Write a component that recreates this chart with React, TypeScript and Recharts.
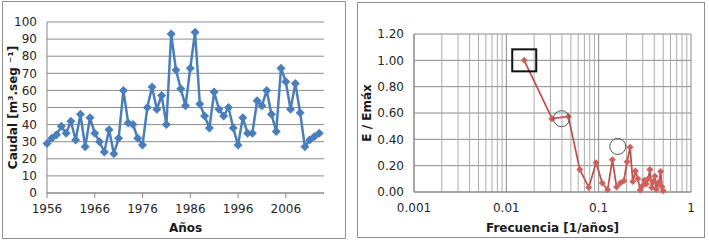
import { LineChart, Line, XAxis, YAxis, CartesianGrid, ReferenceLine, ReferenceDot, Label } from "recharts";

// caudal anual
const years = [
  1956, 1957, 1958, 1959, 1960, 1961, 1962, 1963, 1964, 1965,
  1966, 1967, 1968, 1969, 1970, 1971, 1972, 1973, 1974, 1975,
  1976, 1977, 1978, 1979, 1980, 1981, 1982, 1983, 1984, 1985,
  1986, 1987, 1988, 1989, 1990, 1991, 1992, 1993, 1994, 1995,
  1996, 1997, 1998, 1999, 2000, 2001, 2002, 2003, 2004, 2005,
  2006, 2007, 2008, 2009, 2010, 2011, 2012, 2013,
];
const caudal = [
  29, 32, 34, 39, 35, 42, 31, 46, 27, 44,
  35, 30, 24, 37, 23, 32, 60, 41, 40, 32,
  28, 50, 62, 49, 57, 40, 93, 72, 61, 51,
  73, 94, 52, 45, 38, 59, 49, 45, 50, 38,
  28, 44, 35, 35, 54, 51, 60, 46, 36, 73,
  65, 49, 64, 47, 27, 31, 33, 35,
];
const yearTicks = [1956, 1966, 1976, 1986, 1996, 2006];
const yearMinorTicks = [
  1956, 1958, 1960, 1962, 1964, 1966, 1968, 1970, 1972, 1974, 1976, 1978, 1980, 1982, 1984,
  1986, 1988, 1990, 1992, 1994, 1996, 1998, 2000, 2002, 2004, 2006, 2008, 2010, 2012, 2014,
];
const caudalTicks = [0, 10, 20, 30, 40, 50, 60, 70, 80, 90, 100];

// espectro
const frecuencia = [
  0.015625, 0.03125, 0.046875, 0.0625, 0.078125, 0.09375, 0.109375, 0.125,
  0.140625, 0.15625, 0.171875, 0.1875, 0.203125, 0.21875, 0.234375, 0.25,
  0.265625, 0.28125, 0.296875, 0.3125, 0.328125, 0.34375, 0.359375, 0.375,
  0.390625, 0.40625, 0.421875, 0.4375, 0.453125, 0.46875, 0.484375, 0.5,
];
const energia = [
  1.0, 0.557, 0.574, 0.17, 0.035, 0.222, 0.068, 0.017,
  0.245, 0.038, 0.068, 0.086, 0.23, 0.339, 0.08, 0.16,
  0.1, 0.015, 0.045, 0.09, 0.06, 0.1, 0.17, 0.035,
  0.08, 0.12, 0.02, 0.06, 0.08, 0.155, 0.04, 0.01,
];
const freqTicks = [0.001, 0.01, 0.1, 1];
const freqMinor = [
  0.002, 0.003, 0.004, 0.005, 0.006, 0.007, 0.008, 0.009,
  0.02, 0.03, 0.04, 0.05, 0.06, 0.07, 0.08, 0.09,
  0.2, 0.3, 0.4, 0.5, 0.6, 0.7, 0.8, 0.9,
];
const energiaTicks = [0, 0.2, 0.4, 0.6, 0.8, 1.0, 1.2];
const squareMark = { f: 0.015625, e: 1.0 };
const circleMarks = [
  { f: 0.0396, e: 0.557 },
  { f: 0.161, e: 0.346 },
];

const caudalData = years.map((y, i) => ({ year: y, q: caudal[i] }));
const espectroData = frecuencia.map((f, i) => ({ f, e: energia[i] }));

const font = "'DejaVu Sans', Verdana, sans-serif";
const tickStyle = { fill: "#262626", fontSize: 12, fontFamily: font };

const diamond = (r: number, color: string) => (props: any) => {
  const { cx, cy, index } = props;
  if (cx == null || cy == null) return <g key={`d-${index}`} />;
  return (
    <polygon
      key={`d-${index}`}
      points={`${cx},${cy - r} ${cx + r},${cy} ${cx},${cy + r} ${cx - r},${cy}`}
      fill={color}
    />
  );
};

const yTitle = (text: string, x: number) => (props: any) => {
  const vb = props.viewBox;
  const cy = vb.y + vb.height / 2;
  return (
    <text
      x={x}
      y={cy}
      transform={`rotate(-90 ${x} ${cy})`}
      textAnchor="middle"
      dominantBaseline="central"
      fontWeight="bold"
      fontSize={12}
      fontFamily={font}
      fill="#1a1a1a"
    >
      {text}
    </text>
  );
};

const xTitle = (text: string, dy: number) => (props: any) => {
  const vb = props.viewBox;
  return (
    <text
      x={vb.x + vb.width / 2}
      y={vb.y + dy}
      textAnchor="middle"
      dominantBaseline="central"
      fontWeight="bold"
      fontSize={12}
      fontFamily={font}
      fill="#1a1a1a"
    >
      {text}
    </text>
  );
};

export default function App() {
  return (
    <div style={{ position: "absolute", left: 0, top: 0, width: 709, height: 243, background: "#fff", fontFamily: font }}>
      <div style={{ position: "absolute", left: 2, top: 1, width: 344, height: 238, border: "1px solid #8e8e8e", boxSizing: "border-box" }} />
      <div style={{ position: "absolute", left: 357, top: 2, width: 348, height: 236, border: "1px solid #8e8e8e", boxSizing: "border-box" }} />

      <div style={{ position: "absolute", left: 0, top: 0 }}>
        <LineChart width={350} height={243} data={caudalData} margin={{ top: 22, right: 26, bottom: 0, left: 0 }}>
          <CartesianGrid vertical={false} stroke="#8c8c8c" />
          <XAxis
            xAxisId="minor"
            dataKey="year"
            type="number"
            domain={[1956, 2014]}
            ticks={yearMinorTicks}
            interval={0}
            height={0}
            tick={false}
            tickSize={3}
            axisLine={false}
            tickLine={{ stroke: "#868686" }}
          />
          <XAxis
            dataKey="year"
            type="number"
            domain={[1956, 2014]}
            ticks={yearTicks}
            interval={0}
            height={50}
            tickSize={5}
            tickMargin={6}
            tick={tickStyle}
            axisLine={{ stroke: "#868686" }}
            tickLine={{ stroke: "#868686" }}
          >
            <Label content={xTitle("Años", 35)} />
          </XAxis>
          <YAxis
            domain={[0, 100]}
            ticks={caudalTicks}
            interval={0}
            width={47}
            tickSize={0}
            tickMargin={10}
            tick={tickStyle}
            axisLine={{ stroke: "#868686" }}
            tickLine={false}
          >
            <Label content={yTitle("Caudal [m³.seg ⁻¹]", 13)} />
          </YAxis>
          <Line
            type="linear"
            dataKey="q"
            stroke="#4a7ebb"
            strokeWidth={2.5}
            dot={diamond(4.5, "#4a7ebb")}
            activeDot={false}
            isAnimationActive={false}
          />
        </LineChart>
      </div>

      <div style={{ position: "absolute", left: 355, top: 0 }}>
        <LineChart width={354} height={243} data={espectroData} margin={{ top: 34, right: 18, bottom: 0, left: 0 }}>
          {freqMinor.map((v) => (
            <ReferenceLine key={v} x={v} stroke="#ababab" strokeWidth={1} />
          ))}
          <CartesianGrid stroke="#8a8a8a" />
          <XAxis
            dataKey="f"
            type="number"
            scale="log"
            domain={[0.001, 1]}
            allowDataOverflow
            ticks={freqTicks}
            interval={0}
            height={51}
            tickSize={0}
            tickMargin={11}
            tick={tickStyle}
            axisLine={{ stroke: "#8a8a8a" }}
            tickLine={false}
          >
            <Label content={xTitle("Frecuencia [1/años]", 36)} />
          </XAxis>
          <YAxis
            domain={[0, 1.2]}
            ticks={energiaTicks}
            interval={0}
            width={59}
            tickSize={0}
            tickMargin={10}
            tick={tickStyle}
            tickFormatter={(v: number) => v.toFixed(2)}
            axisLine={{ stroke: "#8a8a8a" }}
            tickLine={false}
          >
            <Label content={yTitle("E / Emáx", 12)} />
          </YAxis>
          <Line
            type="linear"
            dataKey="e"
            stroke="#c0504d"
            strokeWidth={1.75}
            dot={diamond(3.5, "#d0605d")}
            activeDot={false}
            isAnimationActive={false}
          />
          <ReferenceDot
            x={squareMark.f}
            y={squareMark.e}
            shape={(p: any) => (
              <rect x={p.cx - 12} y={p.cy - 11} width={24} height={22} fill="none" stroke="#111" strokeWidth={2} />
            )}
          />
          {circleMarks.map((c, i) => (
            <ReferenceDot key={i} x={c.f} y={c.e} r={8} fill="none" stroke="#555" strokeWidth={1} />
          ))}
        </LineChart>
      </div>
    </div>
  );
}
